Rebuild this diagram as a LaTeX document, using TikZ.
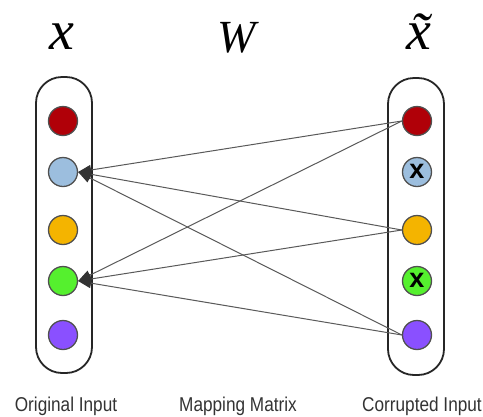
\documentclass[tikz,border=0pt]{standalone}
\usepackage{fontspec}
\newfontfamily\labfont[FakeStretch=0.86]{Liberation Sans}
\newfontfamily\symfont{Liberation Serif}
\newfontfamily\crossfont{Liberation Sans}
\usetikzlibrary{arrows.meta}
\definecolor{cred}{HTML}{B00008}
\definecolor{cblue}{HTML}{9CBEDE}
\definecolor{corange}{HTML}{F4B400}
\definecolor{cgreen}{HTML}{55F02E}
\definecolor{cpurple}{HTML}{8A50FF}
\definecolor{edgegray}{HTML}{505050}
\begin{document}
\begin{tikzpicture}[x=1pt,y=-1pt,
  unit/.style={circle,draw=edgegray,line width=1.3pt,minimum size=29pt,inner sep=0pt},
  column/.style={draw=black!85,line width=1.8pt,rounded corners=26pt},
  conn/.style={draw=black!65,line width=1pt,{Triangle[length=13pt,width=10pt,color=black!80,fill=black!80]}-},
  symb/.style={inner sep=0pt,anchor=base},
  caption/.style={inner sep=0pt,anchor=base,font=\labfont\fontsize{20}{20}\selectfont,text=black!80},
  cross/.style={inner sep=0pt,font=\crossfont\bfseries\fontsize{27}{27}\selectfont}]
\useasboundingbox (0,0) rectangle (483,416);
% columns
\draw[column] (36,77) rectangle (92,373);
\draw[column] (388,78) rectangle (444,375);
% left units
\node[unit,fill=cred] (L1) at (63,121) {};
\node[unit,fill=cblue] (L2) at (63,172) {};
\node[unit,fill=corange] (L3) at (63,230) {};
\node[unit,fill=cgreen] (L4) at (63,281) {};
\node[unit,fill=cpurple] (L5) at (63,335) {};
% right units
\node[unit,fill=cred] (R1) at (417,121) {};
\node[unit,fill=cblue] (R2) at (417,172) {};
\node[unit,fill=corange] (R3) at (417,230) {};
\node[unit,fill=cgreen] (R4) at (417,281) {};
\node[unit,fill=cpurple] (R5) at (417,335) {};
\node[cross] (X2) at (417,171) {x};
\node[cross] (X4) at (417,280) {x};
% connections
\foreach \s in {L2,L4}{
  \foreach \t in {R1,R3,R5}{
    \draw[conn] (\s.east) -- (\t.west);
  }
}
% symbols
\node[symb,font=\symfont\itshape\fontsize{56}{56}\selectfont] (sx) at (62,49) {x};
\node[symb,font=\symfont\itshape\fontsize{46}{46}\selectfont] (sw) at (237,52) {W};
\node[symb,font=\symfont\itshape\fontsize{56}{56}\selectfont] (sxt) at (419,49) {\~{x}};
% captions
\node[caption] (c1) at (66,411) {Original Input};
\node[caption] (c2) at (238,411) {Mapping Matrix};
\node[caption] (c3) at (422,411) {Corrupted Input};
\end{tikzpicture}
\end{document}
